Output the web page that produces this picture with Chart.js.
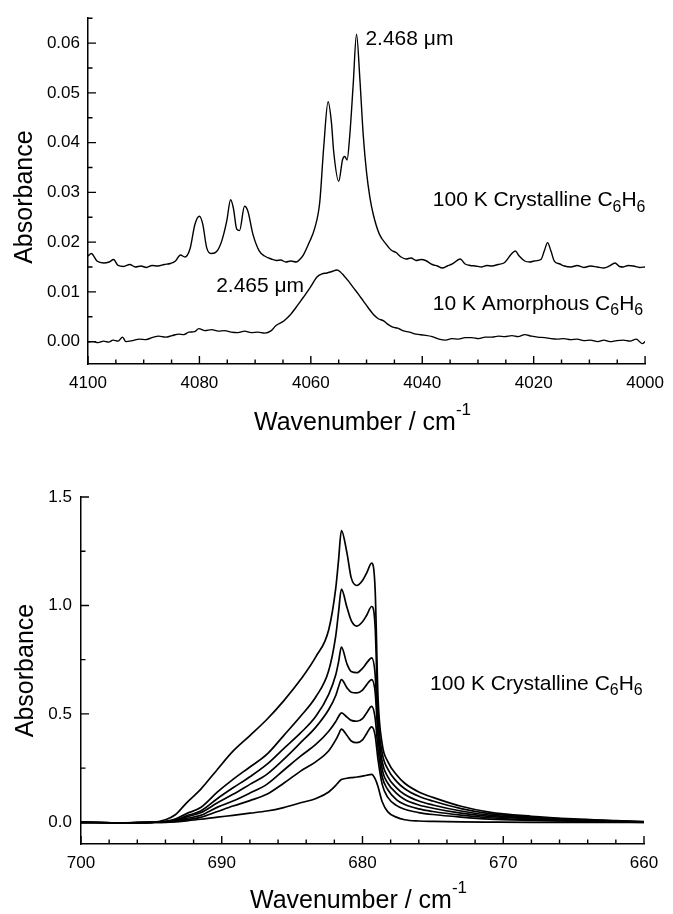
<!DOCTYPE html>
<html>
<head>
<meta charset="utf-8">
<script src="https://cdn.jsdelivr.net/npm/chart.js@4.4.1/dist/chart.umd.min.js"></script>
<style>
  html, body { margin: 0; padding: 0; background: #fff; }
  #wrap { position: relative; width: 673px; height: 914px; }
  canvas { position: absolute; left: 0; }
  #topChart { top: 0; }
  #botChart { top: 440px; }
</style>
</head>
<body>
<div id="wrap">
  <canvas id="topChart" width="673" height="440"></canvas>
  <canvas id="botChart" width="673" height="474"></canvas>
</div>
<script>
// ---- top panel: 2.47 um band, 100 K crystalline vs 10 K amorphous ----
const wnCryst = [4100, 4099.4, 4098.4, 4097.2, 4096.2, 4095.4, 4094.6, 4093.6, 4092.5, 4091.5,
  4090.5, 4089.5, 4088.5, 4087.5, 4086.3, 4085.2, 4084.3, 4083.4, 4082.6, 4081.7,
  4080.8, 4080.0, 4079.4, 4078.7, 4077.8, 4076.9, 4076.0, 4075.1, 4074.4, 4073.9,
  4073.3, 4072.8, 4071.9, 4071.3, 4070.4, 4069.3, 4068.3, 4067.1, 4066.2, 4065.4,
  4064.5, 4063.6, 4062.6, 4062.0, 4061.3, 4060.3, 4059.3, 4058.4, 4057.7, 4056.9,
  4056.3, 4055.9, 4055.0, 4054.3, 4053.9, 4053.5, 4053.0, 4052.4, 4051.8, 4051.2,
  4050.6, 4050.0, 4049.4, 4048.8, 4047.7, 4046.5, 4045.6, 4044.7, 4043.8, 4042.9,
  4042.0, 4041.1, 4040.2, 4039.4, 4038.2, 4037.3, 4036.4, 4035.5, 4034.6, 4033.2,
  4032.3, 4031.4, 4030.5, 4029.3, 4028.4, 4027.5, 4026.4, 4025.2, 4024.0, 4023.3,
  4022.6, 4021.6, 4020.7, 4019.9, 4018.7, 4018.1, 4017.5, 4016.9, 4016.3, 4015.3,
  4014.5, 4013.3, 4012.2, 4011.0, 4009.8, 4008.6, 4007.4, 4006.4, 4005.4, 4004.6,
  4003.9, 4003.0, 4002.1, 4001.0, 4000.0];
const absCryst = [0.0172, 0.0177, 0.0162, 0.0158, 0.0160, 0.0165, 0.0153, 0.0151, 0.0155, 0.0150,
  0.0152, 0.0149, 0.0153, 0.0152, 0.0155, 0.0157, 0.0162, 0.0174, 0.0170, 0.0186,
  0.0236, 0.0252, 0.0236, 0.0189, 0.0177, 0.0181, 0.0202, 0.0242, 0.0285, 0.0268,
  0.0226, 0.0223, 0.0272, 0.0262, 0.0216, 0.0183, 0.0172, 0.0166, 0.0163, 0.0164,
  0.0160, 0.0162, 0.0160, 0.0165, 0.0175, 0.0199, 0.0228, 0.0280, 0.0389, 0.0482,
  0.0440, 0.0382, 0.0322, 0.0366, 0.0372, 0.0365, 0.0416, 0.0516, 0.0618, 0.0528,
  0.0416, 0.0340, 0.0290, 0.0256, 0.0216, 0.0196, 0.0184, 0.0179, 0.0170, 0.0166,
  0.0168, 0.0163, 0.0165, 0.0163, 0.0155, 0.0152, 0.0148, 0.0152, 0.0156, 0.0166,
  0.0156, 0.0153, 0.0152, 0.0150, 0.0153, 0.0152, 0.0155, 0.0159, 0.0176, 0.0182,
  0.0172, 0.0162, 0.0160, 0.0162, 0.0165, 0.0182, 0.0199, 0.0182, 0.0162, 0.0156,
  0.0152, 0.0150, 0.0153, 0.0149, 0.0152, 0.0150, 0.0148, 0.0152, 0.0158, 0.0151,
  0.0150, 0.0153, 0.0152, 0.0149, 0.0150];

const wnAmor = [4100, 4099.1, 4098.2, 4097.2, 4096.3, 4095.5, 4094.6, 4093.8, 4093.2, 4092.0,
  4090.8, 4089.6, 4088.5, 4087.3, 4086.1, 4084.9, 4083.7, 4082.8, 4081.9, 4080.9,
  4080.1, 4079.0, 4077.8, 4076.6, 4075.5, 4074.3, 4073.1, 4071.9, 4070.7, 4069.5,
  4068.3, 4067.1, 4066.3, 4064.8, 4063.6, 4062.7, 4061.8, 4060.9, 4060.1, 4058.9,
  4058.0, 4057.1, 4056.2, 4055.3, 4054.7, 4054.1, 4053.2, 4052.4, 4051.5, 4050.6,
  4049.7, 4048.8, 4047.9, 4047.0, 4046.1, 4045.3, 4044.4, 4043.5, 4042.3, 4041.1,
  4039.7, 4038.2, 4037.0, 4035.8, 4034.7, 4033.5, 4032.3, 4031.1, 4029.9, 4028.7,
  4027.5, 4026.3, 4025.2, 4023.9, 4022.8, 4021.6, 4020.4, 4019.3, 4018.0, 4016.9,
  4015.8, 4014.6, 4013.4, 4012.2, 4011.0, 4009.8, 4008.5, 4007.4, 4006.3, 4005.1,
  4003.9, 4002.7, 4001.6, 4000.5, 4000.0];
const absAmor = [-0.0001, 0.0000, -0.0002, 0.0001, -0.0001, 0.0003, 0.0001, 0.0009, 0.0000, 0.0002,
  0.0005, 0.0004, 0.0008, 0.0011, 0.0009, 0.0012, 0.0015, 0.0014, 0.0019, 0.0020,
  0.0026, 0.0022, 0.0024, 0.0021, 0.0022, 0.0019, 0.0018, 0.0021, 0.0018, 0.0019,
  0.0017, 0.0022, 0.0032, 0.0042, 0.0055, 0.0068, 0.0082, 0.0096, 0.0109, 0.0130,
  0.0136, 0.0138, 0.0141, 0.0144, 0.0140, 0.0133, 0.0121, 0.0109, 0.0096, 0.0082,
  0.0068, 0.0055, 0.0046, 0.0042, 0.0034, 0.0029, 0.0027, 0.0022, 0.0019, 0.0015,
  0.0013, 0.0010, 0.0005, 0.0003, 0.0006, 0.0005, 0.0008, 0.0008, 0.0006, 0.0009,
  0.0009, 0.0011, 0.0010, 0.0012, 0.0010, 0.0014, 0.0011, 0.0009, 0.0008, 0.0006,
  0.0005, 0.0006, 0.0004, 0.0005, 0.0002, 0.0003, 0.0000, 0.0003, 0.0000, 0.0002,
  0.0003, 0.0001, 0.0005, -0.0004, 0.0000];

// ---- bottom panel: 680 cm-1 band, seven film thicknesses ----
const wnBottom = [700, 697, 695, 694, 693.3, 692.5, 691.5, 690.3, 689.2, 688,
  686.8, 685.6, 684.4, 683.3, 682.4, 681.9, 681.7, 681.5, 681.1, 680.8,
  680.4, 680.0, 679.7, 679.35, 679.1, 678.9, 678.6, 678.2, 677.6, 677,
  676, 675, 673, 671, 668, 665, 662, 660];
const layer1 = [0, -0.002, 0, 0.012, 0.035, 0.09, 0.152, 0.245, 0.328, 0.40,
  0.474, 0.56, 0.658, 0.765, 0.888, 1.08, 1.21, 1.345, 1.24, 1.127,
  1.092, 1.115, 1.15, 1.195, 1.07, 0.58, 0.36, 0.28, 0.22, 0.18,
  0.14, 0.115, 0.074, 0.047, 0.028, 0.016, 0.008, 0.003];
const layer2 = [0, -0.002, 0, 0.004, 0.015, 0.04, 0.068, 0.14, 0.198, 0.255,
  0.313, 0.40, 0.489, 0.58, 0.70, 0.86, 0.97, 1.075, 0.99, 0.93,
  0.905, 0.925, 0.955, 0.995, 0.90, 0.50, 0.32, 0.245, 0.19, 0.155,
  0.12, 0.098, 0.063, 0.04, 0.024, 0.013, 0.006, 0.002];
const layer3 = [0, -0.002, 0, 0.003, 0.01, 0.03, 0.052, 0.11, 0.159, 0.21,
  0.267, 0.34, 0.412, 0.49, 0.59, 0.68, 0.74, 0.808, 0.73, 0.695,
  0.69, 0.71, 0.735, 0.758, 0.68, 0.44, 0.28, 0.21, 0.16, 0.128,
  0.098, 0.08, 0.052, 0.033, 0.02, 0.011, 0.005, 0.002];
const layer4 = [0, -0.002, 0, 0.002, 0.008, 0.025, 0.044, 0.09, 0.129, 0.175,
  0.221, 0.29, 0.367, 0.44, 0.52, 0.585, 0.625, 0.658, 0.62, 0.60,
  0.597, 0.61, 0.635, 0.658, 0.60, 0.40, 0.245, 0.18, 0.135, 0.105,
  0.08, 0.065, 0.042, 0.027, 0.016, 0.009, 0.004, 0.001];
const layer5 = [0, -0.002, 0, 0.001, 0.006, 0.018, 0.032, 0.07, 0.098, 0.135,
  0.175, 0.24, 0.305, 0.36, 0.42, 0.465, 0.488, 0.505, 0.485, 0.47,
  0.466, 0.478, 0.505, 0.535, 0.48, 0.34, 0.21, 0.15, 0.105, 0.082,
  0.062, 0.05, 0.033, 0.021, 0.012, 0.007, 0.003, 0.001];
const layer6 = [0, -0.002, 0, 0.001, 0.004, 0.012, 0.023, 0.05, 0.075, 0.10,
  0.129, 0.18, 0.236, 0.28, 0.33, 0.38, 0.405, 0.43, 0.40, 0.375,
  0.367, 0.38, 0.41, 0.44, 0.40, 0.29, 0.175, 0.115, 0.078, 0.06,
  0.045, 0.036, 0.024, 0.015, 0.009, 0.005, 0.002, 0];
const layer7 = [0, -0.002, 0, 0, 0.002, 0.007, 0.014, 0.024, 0.032, 0.042,
  0.052, 0.068, 0.09, 0.11, 0.14, 0.17, 0.185, 0.197, 0.203, 0.206,
  0.209, 0.213, 0.217, 0.221, 0.2, 0.165, 0.095, 0.048, 0.024, 0.012,
  0.006, 0.004, 0.002, 0.001, 0, 0, 0, 0];

const FONT = "'Liberation Sans', Arial, Helvetica, sans-serif";
Chart.defaults.font.family = FONT;
Chart.defaults.color = '#000';

const toPts = (xs, ys) => xs.map((x, i) => ({ x, y: ys[i] }));

// text pieces: [string, kind]  kind: '' normal, 'sub', 'sup'
function drawRich(ctx, parts, x, y, base, align) {
  const seg = parts.map(([t, kind]) => {
    const size = kind === 'sub' ? base * 0.76 : kind === 'sup' ? base * 0.68 : base;
    const dy = kind === 'sub' ? base * 0.25 : kind === 'sup' ? -base * 0.6 : 0;
    ctx.font = size + 'px ' + FONT;
    return { t, size, dy, w: ctx.measureText(t).width };
  });
  const total = seg.reduce((s, p) => s + p.w, 0);
  let cx = align === 'center' ? x - total / 2 : x;
  ctx.textAlign = 'left';
  ctx.textBaseline = 'alphabetic';
  for (const p of seg) {
    ctx.font = p.size + 'px ' + FONT;
    ctx.fillText(p.t, cx, y + p.dy);
    cx += p.w;
  }
}

// inward major/minor tick marks
const inTicks = {
  id: 'inTicks',
  afterDatasetsDraw(chart, args, o) {
    const { ctx, chartArea: a, scales: { x, y } } = chart;
    ctx.save();
    ctx.strokeStyle = '#000';
    ctx.lineWidth = 1.4;
    const marks = (scale, minor, major, draw) => {
      const lo = Math.min(scale.min, scale.max), hi = Math.max(scale.min, scale.max);
      for (let i = Math.ceil(lo / minor - 1e-6); i * minor <= hi + 1e-9; i++) {
        const v = i * minor;
        const isMajor = Math.abs(v / major - Math.round(v / major)) < 1e-6;
        draw(scale.getPixelForValue(v), isMajor ? 8 : 4.5);
      }
    };
    ctx.beginPath();
    marks(x, o.xMinor, o.xMajor, (p, len) => { ctx.moveTo(p, a.bottom); ctx.lineTo(p, a.bottom - len); });
    marks(y, o.yMinor, o.yMajor, (p, len) => { ctx.moveTo(a.left, p); ctx.lineTo(a.left + len, p); });
    ctx.stroke();
    ctx.restore();
  }
};

// axis titles and in-plot annotations
const notes = {
  id: 'notes',
  afterDraw(chart, args, o) {
    const { ctx, chartArea: a, scales: { x, y } } = chart;
    ctx.save();
    ctx.fillStyle = '#000';
    for (const n of o.items) {
      drawRich(ctx, n.text, x.getPixelForValue(n.wn), y.getPixelForValue(n.abs), o.size, 'left');
    }
    // x title
    drawRich(ctx, [['Wavenumber / cm', ''], ['-1', 'sup']],
      (a.left + a.right) / 2 - 4, a.bottom + o.xTitleGap, 25, 'center');
    // y title
    ctx.translate(o.yTitleX, (a.top + a.bottom) / 2 + o.yTitleShift);
    ctx.rotate(-Math.PI / 2);
    ctx.font = '25px ' + FONT;
    ctx.textAlign = 'center';
    ctx.textBaseline = 'alphabetic';
    ctx.fillText('Absorbance', 0, 0);
    ctx.restore();
  }
};

function lineSet(data, width) {
  return {
    data, borderColor: '#000', borderWidth: width, pointRadius: 0,
    fill: false, cubicInterpolationMode: 'monotone'
  };
}

function axes(xMin, xMax, xStep, yMin, yMax, yStep, yDigits, yWidth, xHeight, pad) {
  return {
    x: {
      type: 'linear', reverse: true, min: xMin, max: xMax,
      afterFit: s => { s.height = xHeight; },
      grid: { drawOnChartArea: false, drawTicks: false },
      border: { display: true, color: '#000', width: 1.5 },
      ticks: { stepSize: xStep, includeBounds: false, padding: pad.x, font: { size: 17 },
        maxRotation: 0, callback: v => v.toFixed(0) }
    },
    y: {
      type: 'linear', min: yMin, max: yMax,
      afterFit: s => { s.width = yWidth; },
      grid: { drawOnChartArea: false, drawTicks: false },
      border: { display: true, color: '#000', width: 1.5 },
      ticks: { stepSize: yStep, includeBounds: false, padding: pad.y, font: { size: 17 },
        callback: v => v.toFixed(yDigits) }
    }
  };
}

const baseOpts = {
  responsive: false,
  animation: false,
  events: []
};

new Chart(document.getElementById('topChart'), {
  type: 'line',
  data: {
    datasets: [
      lineSet(toPts(wnCryst, absCryst), 1.4),
      lineSet(toPts(wnAmor, absAmor), 1.4)
    ]
  },
  options: {
    ...baseOpts,
    layout: { padding: { top: 16, right: 21, left: 0, bottom: 0 } },
    scales: axes(4000, 4100, 20, -0.0045, 0.065, 0.01, 2, 88, 76, { x: 9, y: 8 }),
    plugins: {
      legend: { display: false },
      tooltip: { enabled: false },
      inTicks: { xMajor: 20, xMinor: 5, yMajor: 0.01, yMinor: 0.005 },
      notes: {
        size: 21, xTitleGap: 66, yTitleX: 32, yTitleShift: 6,
        items: [
          { wn: 4050.2, abs: 0.0596, text: [['2.468 \u03bcm', '']] },
          { wn: 4038.1, abs: 0.0272, text: [['100 K Crystalline C', ''], ['6', 'sub'], ['H', ''], ['6', 'sub']] },
          { wn: 4077.0, abs: 0.0100, text: [['2.465 \u03bcm', '']] },
          { wn: 4038.1, abs: 0.0064, text: [['10 K Amorphous C', ''], ['6', 'sub'], ['H', ''], ['6', 'sub']] }
        ]
      }
    }
  },
  plugins: [inTicks, notes]
});

new Chart(document.getElementById('botChart'), {
  type: 'line',
  data: {
    datasets: [layer1, layer2, layer3, layer4, layer5, layer6, layer7]
      .map(ys => lineSet(toPts(wnBottom, ys), 1.7))
  },
  options: {
    ...baseOpts,
    layout: { padding: { top: 57, right: 29, left: 0, bottom: 0 } },
    scales: axes(660, 700, 10, -0.1, 1.5, 0.5, 1, 81, 70, { x: 9, y: 9 }),
    plugins: {
      legend: { display: false },
      tooltip: { enabled: false },
      inTicks: { xMajor: 10, xMinor: 2, yMajor: 0.5, yMinor: 0.25 },
      notes: {
        size: 21, xTitleGap: 64, yTitleX: 33, yTitleShift: 0,
        items: [
          { wn: 675.2, abs: 0.612, text: [['100 K Crystalline C', ''], ['6', 'sub'], ['H', ''], ['6', 'sub']] }
        ]
      }
    }
  },
  plugins: [inTicks, notes]
});
</script>
</body>
</html>
